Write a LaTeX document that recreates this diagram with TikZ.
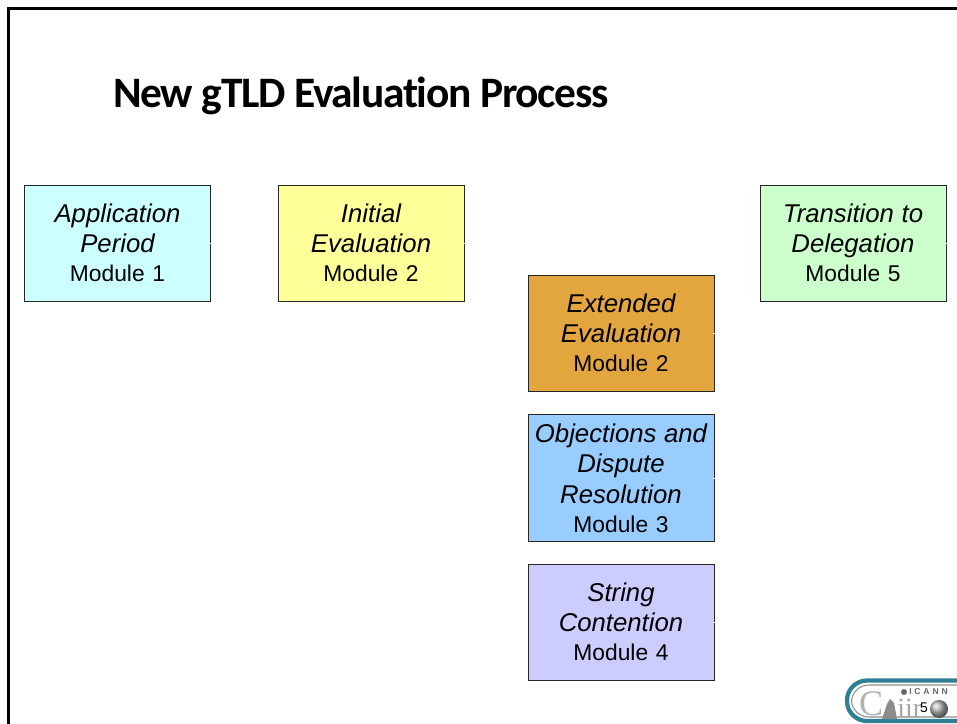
\documentclass[tikz,border=0pt]{standalone}
\usepackage{fontspec}
\setmainfont{Liberation Sans}
\newfontfamily\titlefont[LetterSpace=-3.0,Ligatures=NoCommon]{Carlito}
\newfontfamily\logofont{Liberation Serif}
\definecolor{cyanbox}{HTML}{CCFFFF}
\definecolor{yellowbox}{HTML}{FFFF99}
\definecolor{greenbox}{HTML}{CCFFCC}
\definecolor{orangebox}{HTML}{E3A63F}
\definecolor{bluebox}{HTML}{99CCFF}
\definecolor{violetbox}{HTML}{CCCCFF}
\definecolor{logoedge}{HTML}{2F7F96}
\tikzset{
  modbox/.style={draw=black!85, line width=0.7pt, minimum width=139.5pt, align=center, inner sep=0pt,
    font=\fontsize{17.1pt}{22.8pt}\selectfont, text width=139.5pt},
  tick/.style={draw=white, line width=0.6pt},
  frameline/.style={draw=black, line width=1.6pt}
}
\newcommand{\modtext}[2]{{\fontsize{19.3pt}{22.8pt}\selectfont\itshape #1\\}\vspace*{-1pt}#2}
\begin{document}
\begin{tikzpicture}[x=0.75pt,y=-0.75pt]
\useasboundingbox (0,0) rectangle (957,724);
\fill[white] (0,0) rectangle (957,724);
\coordinate (ftl) at (8.5,8.5);
\coordinate (ftr) at (957,8.5);
\coordinate (fbl) at (8.5,724);
\draw[frameline] (fbl) -- (ftl) -- (ftr);
\node[anchor=west, inner sep=0pt, font=\titlefont\bfseries\fontsize{32.6pt}{36pt}\selectfont] (title) at (113,96) {New gTLD Evaluation Process};

\node[modbox, fill=cyanbox, minimum height=87pt] (m1) at (117.5,243) {\modtext{Application\\Period}{Module 1}};
\node[modbox, fill=yellowbox, minimum height=87pt] (m2) at (371,243) {\modtext{Initial\\Evaluation}{Module 2}};
\node[modbox, fill=greenbox, minimum height=87pt] (m5) at (853,243) {\modtext{Transition to\\Delegation}{Module 5}};
\node[modbox, fill=orangebox, minimum height=87pt] (m2e) at (621,333) {\modtext{Extended\\Evaluation}{Module 2}};
\node[modbox, fill=bluebox, minimum height=95pt] (m3) at (621,478) {\modtext{Objections and\\Dispute\\Resolution}{Module 3}};
\node[modbox, fill=violetbox, minimum height=87pt] (m4) at (621,622) {\modtext{String\\Contention}{Module 4}};

\foreach \n in {m1,m2,m5,m2e,m3,m4}{
  \draw[tick] ([xshift=-1pt]\n.east) -- ([xshift=1pt]\n.east);
}

% logo
\begin{scope}
\clip (840,672) rectangle (957,724);
\draw[line width=3.2pt, draw=logoedge, fill=white, rounded corners=15pt] (847,680.5) rectangle (990,721);
\draw[line width=0.8pt, draw=black!45, rounded corners=13pt] (851.5,685) rectangle (985,717);
\node[inner sep=0pt, text=black!30, font=\logofont\fontsize{27pt}{27pt}\selectfont] (logoc) at (871,704) {C};
\node[inner sep=0pt, anchor=west, text=black!35, font=\logofont\fontsize{21pt}{21pt}\selectfont] (logoi) at (897,708) {iir};
\fill[black!45] (882,719) -- (887,704) -- (890,699) -- (894,703) -- (897,719) -- cycle;
\shade[ball color=black!30] (939,709) circle (9);
\node[inner sep=0pt, anchor=west, text=black!60, font=\bfseries\fontsize{6.4pt}{7pt}\selectfont] (icann) at (909,692) {I\,\,C\,\,A\,\,N\,\,N};
\fill[black!60] (904,692) circle (3);
\node[inner sep=0pt, font=\fontsize{10.5pt}{12pt}\selectfont] (pg) at (924,708) {5};
\end{scope}
\end{tikzpicture}
\end{document}
